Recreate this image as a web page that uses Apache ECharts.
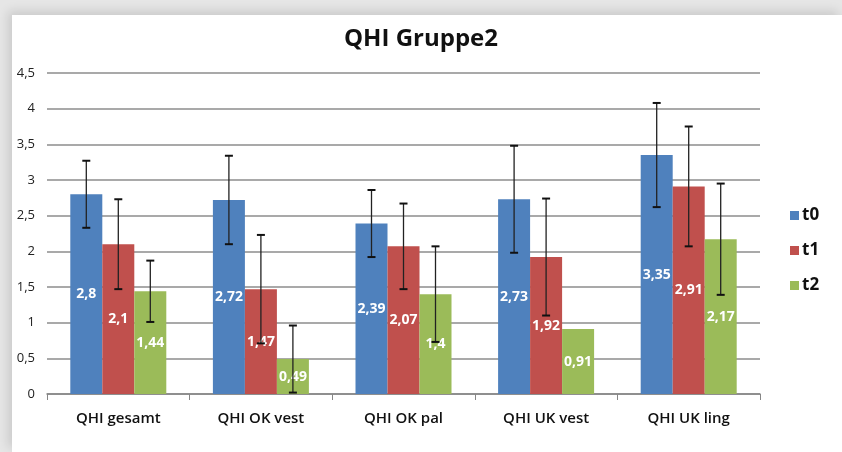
<!DOCTYPE html>
<html>
<head>
<meta charset="utf-8">
<script src="https://cdn.jsdelivr.net/npm/echarts@6/dist/echarts.min.js"></script>
<style>
  html, body { margin: 0; padding: 0; width: 842px; height: 452px; overflow: hidden; background: #e6e6e6; }
  #card { position: absolute; left: 12px; top: 15px; width: 830px; height: 437px; background: #fff; box-shadow: -4px -4px 10px rgba(0,0,0,0.12); }
  #chart { position: absolute; left: 0; top: 0; width: 842px; height: 452px; }
</style>
</head>
<body>
<div id="card"></div>
<div id="chart"></div>
<script>
const categories = ['QHI gesamt', 'QHI OK vest', 'QHI OK pal', 'QHI UK vest', 'QHI UK ling']
const seriesNames = ['t0', 't1', 't2']
const t0Values = [2.8, 2.72, 2.39, 2.73, 3.35]
const t1Values = [2.1, 1.47, 2.07, 1.92, 2.91]
const t2Values = [1.44, 0.49, 1.4, 0.91, 2.17]
// +/- error (null = none visible)
const t0Errors = [0.47, 0.62, 0.47, 0.75, 0.73]
const t1Errors = [0.63, 0.76, 0.6, 0.82, 0.84]
const t2Errors = [0.43, 0.47, 0.67, null, 0.78]
const yTicks = [0, 0.5, 1, 1.5, 2, 2.5, 3, 3.5, 4, 4.5]

const colors = ['#4f81bd', '#c0504d', '#9bbb59']
const values = [t0Values, t1Values, t2Values]
const errors = [t0Errors, t1Errors, t2Errors]
const barWidth = 32

const fmt = (v) => String(v).replace('.', ',')

const chart = echarts.init(document.getElementById('chart'), null, { renderer: 'canvas' })

const barSeries = seriesNames.map((name, i) => ({
  name,
  type: 'bar',
  barWidth,
  barGap: '0%',
  data: values[i],
  itemStyle: { color: colors[i] },
  label: {
    show: true,
    position: 'inside',
    color: '#fff',
    fontWeight: 'bold',
    fontSize: 14,
    fontFamily: 'Open Sans',
    formatter: (p) => fmt(p.value),
  },
}))

const errorData = []
values.forEach((vals, s) => {
  vals.forEach((v, c) => {
    const e = errors[s][c]
    if (e == null) return
    errorData.push([c, v - e, v + e, s])
  })
})

const errorSeries = {
  type: 'custom',
  name: 'err',
  data: errorData,
  z: 10,
  silent: true,
  renderItem: (params, api) => {
    const c = api.value(0)
    const s = api.value(3)
    const lo = api.coord([c, Math.max(api.value(1), 0)])
    const hi = api.coord([c, api.value(2)])
    const x = lo[0] + (s - 1) * barWidth
    const cap = 4
    const style = { stroke: '#222', lineWidth: 1.3 }
    return {
      type: 'group',
      children: [
        { type: 'line', shape: { x1: x, y1: lo[1], x2: x, y2: hi[1] }, style },
        { type: 'line', shape: { x1: x - cap, y1: lo[1], x2: x + cap, y2: lo[1] }, style: { stroke: '#111', lineWidth: 2 } },
        { type: 'line', shape: { x1: x - cap, y1: hi[1], x2: x + cap, y2: hi[1] }, style: { stroke: '#111', lineWidth: 2 } },
      ],
    }
  },
}

chart.setOption({
  animation: false,
  title: {
    text: 'QHI Gruppe2',
    left: 'center',
    top: 22,
    textStyle: { fontFamily: 'Open Sans', fontWeight: 'bold', fontSize: 24, color: '#111' },
  },
  legend: {
    data: seriesNames,
    orient: 'vertical',
    left: 785,
    top: 202,
    itemWidth: 9,
    itemHeight: 9,
    itemGap: 18,
    icon: 'rect',
    textStyle: { fontFamily: 'Open Sans', fontWeight: 'bold', fontSize: 17, color: '#111', padding: [0, 0, 0, -2] },
  },
  grid: { left: 47, right: 82, top: 73, bottom: 58 },
  xAxis: {
    type: 'category',
    data: categories,
    axisLine: { lineStyle: { color: '#868686', width: 1.5 } },
    axisTick: { show: true, alignWithLabel: false, length: 6, lineStyle: { color: '#868686' } },
    axisLabel: { color: '#111', fontFamily: 'Open Sans', fontWeight: '600', fontSize: 15, margin: 17 },
  },
  yAxis: {
    type: 'value',
    min: yTicks[0],
    max: yTicks[yTicks.length - 1],
    interval: 0.5,
    axisLine: { show: false },
    axisTick: { show: false },
    splitLine: { lineStyle: { color: '#8c8c8c', width: 1.5 } },
    axisLabel: { color: '#222', fontFamily: 'Open Sans', fontSize: 13, margin: 12, formatter: (v) => fmt(v) },
  },
  series: [...barSeries, errorSeries],
})
</script>
</body>
</html>
